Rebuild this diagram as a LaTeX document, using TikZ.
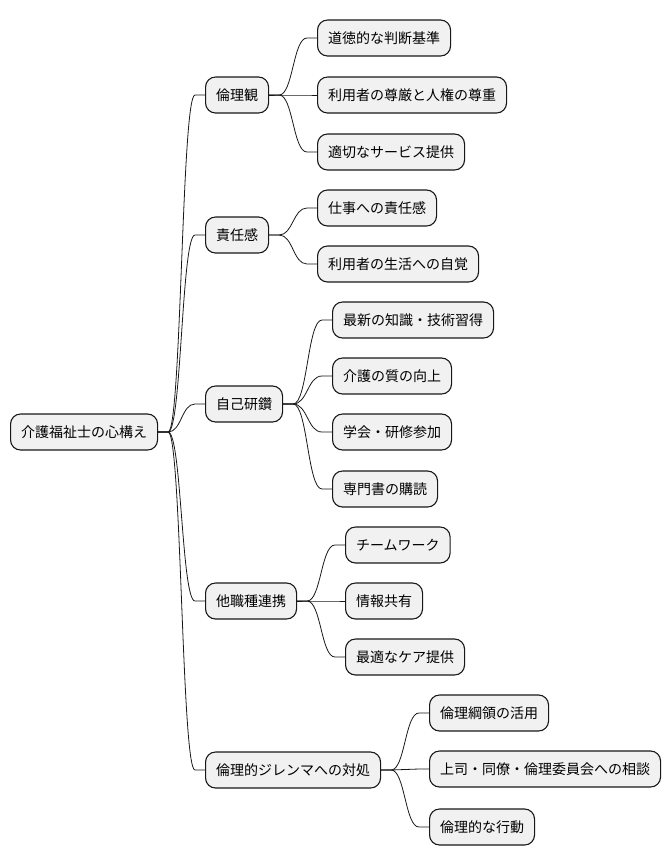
\documentclass[tikz,border=0pt]{standalone}
\usepackage{fontspec}
\setmainfont{Noto Sans CJK JP}
\usetikzlibrary{calc}
\definecolor{boxfill}{HTML}{F1F1F1}
\definecolor{boxline}{HTML}{181818}
\tikzset{
  mm/.style={draw=boxline, fill=boxfill, line width=1.1pt, rounded corners=10pt,
    minimum height=36pt, inner xsep=10.5pt, inner ysep=0pt, anchor=west,
    font=\fontsize{14pt}{16pt}\selectfont},
  branch/.style={draw=boxline, line width=0.8pt,
    to path={let \p1=(\tikztostart), \p2=(\tikztotarget) in
      -- ++(10pt,0pt)
      .. controls ({(\x1+\x2)/2},\y1) and ({(\x1+\x2)/2},\y2) ..
      ([xshift=-10pt]\tikztotarget) -- (\tikztotarget)}}
}
\begin{document}
\begin{tikzpicture}[x=1pt,y=-1pt]
\useasboundingbox (0,0) rectangle (670,865);
% root
\node[mm] (root) at (10,432) {介護福祉士の心構え};
% level 1
\node[mm] (a) at (205,95) {倫理観};
\node[mm] (b) at (205,235) {責任感};
\node[mm] (c) at (205,404) {自己研鑽};
\node[mm] (d) at (205,601) {他職種連携};
\node[mm] (e) at (205,770) {倫理的ジレンマへの対処};
% level 2
\node[mm] (a1) at (317,38) {道徳的な判断基準};
\node[mm] (a2) at (317,95) {利用者の尊厳と人権の尊重};
\node[mm] (a3) at (317,152) {適切なサービス提供};
\node[mm] (b1) at (317,208) {仕事への責任感};
\node[mm] (b2) at (317,264) {利用者の生活への自覚};
\node[mm] (c1) at (332,320) {最新の知識・技術習得};
\node[mm] (c2) at (332,376) {介護の質の向上};
\node[mm] (c3) at (332,432) {学会・研修参加};
\node[mm] (c4) at (332,489) {専門書の購読};
\node[mm] (d1) at (345,545) {チームワーク};
\node[mm] (d2) at (345,601) {情報共有};
\node[mm] (d3) at (345,657) {最適なケア提供};
\node[mm] (e1) at (429,713) {倫理綱領の活用};
\node[mm] (e2) at (429,769) {上司・同僚・倫理委員会への相談};
\node[mm] (e3) at (429,827) {倫理的な行動};
% connectors
\foreach \p/\c in {root/a,root/b,root/c,root/d,root/e,
  a/a1,a/a2,a/a3,b/b1,b/b2,c/c1,c/c2,c/c3,c/c4,d/d1,d/d2,d/d3,e/e1,e/e2,e/e3}
  \draw[branch] (\p.east) to (\c.west);
\end{tikzpicture}
\end{document}
